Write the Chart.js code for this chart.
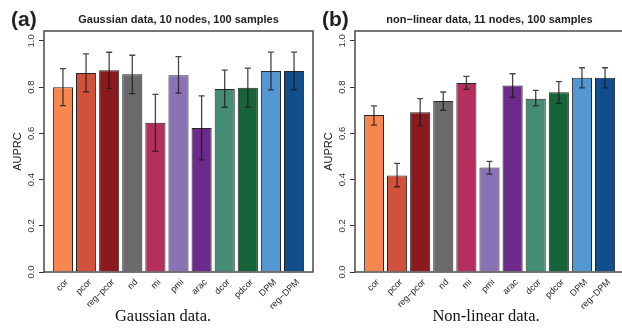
<!DOCTYPE html>
<html>
<head>
<meta charset="utf-8">
<script src="https://cdn.jsdelivr.net/npm/chart.js@4.4.1/dist/chart.umd.min.js"></script>
<style>
  html, body { margin: 0; padding: 0; background: #fff; overflow: hidden; }
  #wrap { position: relative; width: 622px; height: 328px; overflow: hidden; }
  canvas { position: absolute; top: 0; }
</style>
</head>
<body>
<div id="wrap">
  <canvas id="chartA" width="314" height="328" style="left:0"></canvas>
  <canvas id="chartB" width="314" height="328" style="left:311px"></canvas>
</div>
<script>
const methods = ['cor', 'pcor', 'reg\u2212pcor', 'nd', 'mi', 'pmi', 'arac', 'dcor', 'pdcor', 'DPM', 'reg\u2212DPM'];
const barColors = ['#F5874F', '#D2513A', '#8B1A1E', '#6A6A6A', '#B42F5E', '#8A73B4',
                   '#6C2A8A', '#448C73', '#18643A', '#5397D3', '#104E8C'];
const yTicks = [0, 0.2, 0.4, 0.6, 0.8, 1.0];

// (a) Gaussian data
const gaussMean = [0.800, 0.861, 0.873, 0.856, 0.646, 0.852, 0.623, 0.792, 0.797, 0.870, 0.870];
const gaussLow  = [0.720, 0.780, 0.795, 0.772, 0.522, 0.774, 0.485, 0.713, 0.713, 0.788, 0.788];
const gaussHigh = [0.880, 0.944, 0.951, 0.938, 0.769, 0.932, 0.762, 0.874, 0.882, 0.952, 0.952];

// (b) non-linear data
const nonlinMean = [0.680, 0.418, 0.691, 0.740, 0.818, 0.452, 0.807, 0.750, 0.778, 0.841, 0.841];
const nonlinLow  = [0.636, 0.369, 0.632, 0.700, 0.790, 0.424, 0.756, 0.719, 0.730, 0.797, 0.797];
const nonlinHigh = [0.719, 0.470, 0.750, 0.779, 0.847, 0.479, 0.858, 0.786, 0.824, 0.884, 0.884];

const SANS = '"Liberation Sans", Arial, sans-serif';

function makePanel(id, letter, title, caption, captionX, means, lows, highs) {
    const ctx = document.getElementById(id).getContext('2d');

    // error bars + frame + texts
    const extras = {
        id: 'extras',
        afterDatasetsDraw(chart) {
            const c = chart.ctx;
            const xs = chart.scales.x, ys = chart.scales.y;
            c.save();
            c.strokeStyle = 'rgba(25,25,25,0.8)';
            c.lineWidth = 1.3;
            for (let i = 0; i < means.length; i++) {
                const px = xs.getPixelForValue(i);
                const top = ys.getPixelForValue(highs[i]);
                const bot = ys.getPixelForValue(lows[i]);
                c.beginPath();
                c.moveTo(px, top); c.lineTo(px, bot);
                c.moveTo(px - 3, top); c.lineTo(px + 3, top);
                c.moveTo(px - 3, bot); c.lineTo(px + 3, bot);
                c.stroke();
            }
            c.restore();
        },
        afterDraw(chart) {
            const c = chart.ctx;
            const a = chart.chartArea;
            c.save();
            // box around plot
            c.strokeStyle = '#4a4a4a';
            c.lineWidth = 1.5;
            c.strokeRect(a.left, a.top, a.right - a.left, a.bottom - a.top);

            c.fillStyle = '#222';
            c.textBaseline = 'alphabetic';
            c.textAlign = 'left';
            c.font = 'bold 21px ' + SANS;
            c.fillText('(' + letter + ')', 11, 26);

            c.textAlign = 'center';
            c.font = 'bold 11px ' + SANS;
            c.fillText(title, (a.left + a.right) / 2, 23);

            c.font = '11px ' + SANS;
            c.save();
            c.translate(18, (a.top + a.bottom) / 2);
            c.rotate(-Math.PI / 2);
            c.textBaseline = 'middle';
            c.fillText('AUPRC', 0, 0);
            c.restore();

            c.font = '16.5px "Liberation Serif", "Times New Roman", serif';
            c.fillStyle = '#111';
            c.fillText(caption, captionX, 321);
            c.restore();
        }
    };

    return new Chart(ctx, {
        type: 'bar',
        data: {
            datasets: [{
                data: means.map((v, i) => ({ x: i, y: v })),
                backgroundColor: barColors,
                borderColor: '#262626',
                borderWidth: 1,
                barPercentage: 0.87,
                categoryPercentage: 1.0,
            }]
        },
        options: {
            responsive: false,
            animation: false,
            layout: { padding: { top: 31, left: 0, right: 1, bottom: 0 } },
            plugins: {
                legend: { display: false },
                tooltip: { enabled: false },
            },
            scales: {
                x: {
                    type: 'linear',
                    offset: false,
                    min: -0.82,
                    max: 10.82,
                    afterBuildTicks: (s) => { s.ticks = methods.map((m, i) => ({ value: i })); },
                    afterFit: (s) => { s.height = 56; },
                    grid: { display: false, offset: false },
                    border: { display: false },
                    ticks: {
                        color: '#222',
                        font: { family: SANS, size: 9 },
                        minRotation: 45,
                        maxRotation: 45,
                        padding: -3,
                        labelOffset: 4,
                        callback: (v) => methods[v],
                    }
                },
                y: {
                    min: 0,
                    max: 1.043,
                    afterBuildTicks: (s) => { s.ticks = yTicks.map(v => ({ value: v })); },
                    afterFit: (s) => { s.width = 44; },
                    grid: { drawOnChartArea: false, drawTicks: true, tickLength: 5, color: '#333' },
                    border: { display: false },
                    ticks: {
                        color: '#333',
                        font: { family: SANS, size: 9.5 },
                        minRotation: 90,
                        maxRotation: 90,
                        crossAlign: 'center',
                        padding: 1.5,
                        callback: (v) => v.toFixed(1),
                    }
                }
            }
        },
        plugins: [extras]
    });
}

makePanel('chartA', 'a', 'Gaussian data, 10 nodes, 100 samples', 'Gaussian data.', 163,
          gaussMean, gaussLow, gaussHigh);
makePanel('chartB', 'b', 'non\u2212linear data, 11 nodes, 100 samples', 'Non-linear data.', 175,
          nonlinMean, nonlinLow, nonlinHigh);
</script>
</body>
</html>
